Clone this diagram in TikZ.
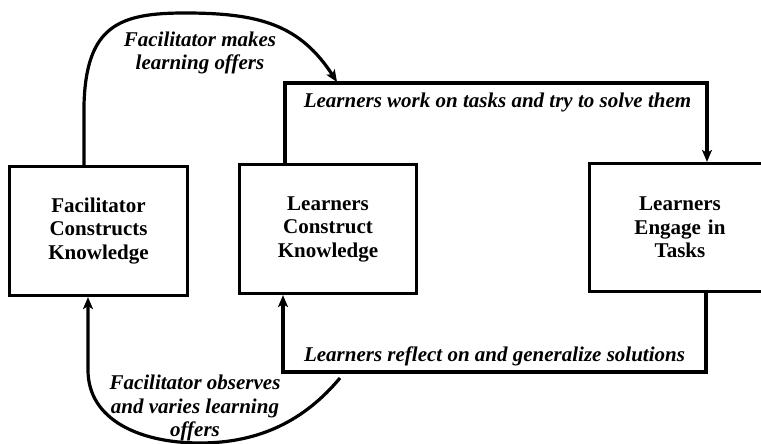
\documentclass[tikz,border=0pt]{standalone}
\usepackage{fontspec}
\setmainfont{Liberation Serif}
\usetikzlibrary{arrows.meta}
\begin{document}
\begin{tikzpicture}[x=1pt,y=-1pt,
  lw/.style={line width=3.2pt},
  stage/.style={draw, lw, align=center, inner sep=0pt, text width=170pt,
    font=\fontsize{21}{23.5}\selectfont\bfseries},
  flow/.style={lw, line join=miter, -{Stealth[length=12pt,width=10pt,inset=3pt]}},
  caption/.style={align=center, inner sep=0pt,
    font=\fontsize{21}{23.5}\selectfont\bfseries\itshape}]

% canvas
\fill[white] (0,0) rectangle (761,444);
\clip (0,0) rectangle (761,444);

% the three stages
\node[stage, minimum width=178pt, minimum height=129pt] (fac) at (98.5,231)
  {Facilitator\\Constructs\\Knowledge};
\node[stage, minimum width=177pt, minimum height=129pt] (lck) at (328,229)
  {Learners\\Construct\\Knowledge};
\node[stage, minimum width=181pt, minimum height=128pt] (eng) at (680,227.5)
  {Learners\\Engage in\\Tasks};

% bends of the connectors
\coordinate (topL) at (285,83);
\coordinate (topR) at (707,83);
\coordinate (botR) at (706,372);
\coordinate (botL) at (283,372);
\coordinate (offerRise) at (84,105);
\coordinate (offerPeak) at (185,13);
\coordinate (offerTip) at (337,82);
\coordinate (varyStart) at (340,378);
\coordinate (varyLow) at (200,443);
\coordinate (varyRise) at (88,370);

% learners work on tasks
\draw[flow] (lck.north -| topL) -- (topL) -- (topR) -- (eng.north -| topR);
% learners reflect
\draw[flow] (eng.south -| botR) -- (botR) -- (botL) -- (lck.south -| botL);
% facilitator makes offers
\draw[flow] (fac.north -| offerRise) -- (offerRise)
  .. controls (86,25) and (120,13) .. (offerPeak)
  .. controls (260,13) and (300,25) .. (offerTip);
% facilitator observes
\draw[flow] (varyStart)
  .. controls (305,420) and (260,443) .. (varyLow)
  .. controls (140,443) and (88,420) .. (varyRise)
  -- (fac.south -| varyRise);

% labels
\node[caption] (lblOffer) at (200,53) {Facilitator makes\\learning offers};
\node[caption] (lblWork) at (497.5,102) {Learners work on tasks and try to solve them};
\node[caption] (lblReflect) at (494.5,356) {Learners reflect on and generalize solutions};
\node[caption] (lblVary) at (195,408) {Facilitator observes\\and varies learning\\offers};
\end{tikzpicture}
\end{document}
